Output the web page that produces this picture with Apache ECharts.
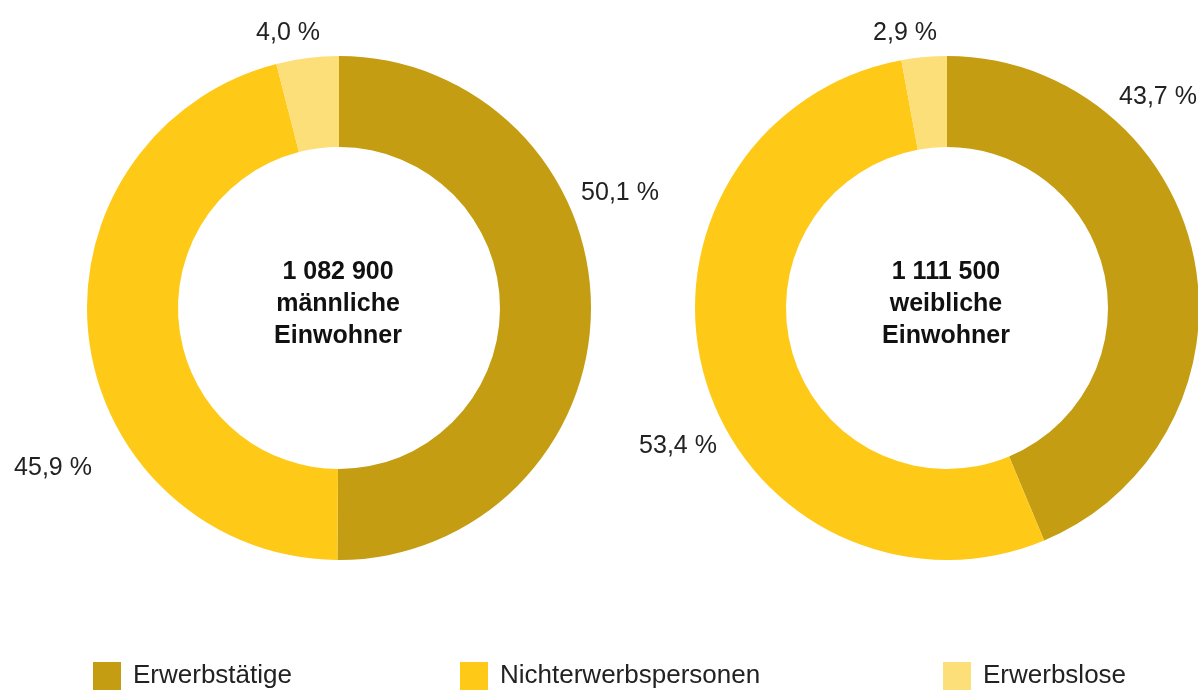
<!DOCTYPE html>
<html>
<head>
<meta charset="utf-8">
<script src="https://cdn.jsdelivr.net/npm/echarts@6/dist/echarts.min.js"></script>
<style>
  html, body { margin: 0; padding: 0; background: #fff; }
  #chart { width: 1198px; height: 690px; }
</style>
</head>
<body>
<div id="chart"></div>
<script>
// Daten
var kategorien = ['Erwerbstätige', 'Nichterwerbspersonen', 'Erwerbslose'];
var maennlich = [50.1, 45.9, 4.0];
var weiblich = [43.7, 53.4, 2.9];
var mitteTexte = ['1 082 900\nmännliche\nEinwohner', '1 111 500\nweibliche\nEinwohner'];
var farben = ['#C49D12', '#FEC917', '#FDDF7A'];

var schrift = '"Liberation Sans", Arial, sans-serif';

// Lage der Prozentangaben (Mittelpunkt des Textes)
var labelPosLinks = [[620, 193], [53, 468], [288, 33]];
var labelPosRechts = [[1158, 97], [678, 446], [905, 33]];
// linke Kante der Legendeneinträge
var legendeLinks = [93, 460, 943];

var myChart = echarts.init(document.getElementById('chart'));

function prozent(v) {
    return v.toFixed(1).replace('.', ',') + ' %';
}

function baueSerie(name, werte, mitte, pos) {
    return {
        name: name,
        type: 'pie',
        center: mitte,
        radius: [161, 252],
        startAngle: 90,
        clockwise: true,
        silent: true,
        avoidLabelOverlap: false,
        data: werte.map(function (v, i) {
            return { name: kategorien[i], value: v, itemStyle: { color: farben[i] } };
        }),
        label: {
            show: true,
            position: 'outside',
            overflow: 'none',
            formatter: function (p) { return prozent(p.value); },
            fontFamily: schrift,
            fontSize: 25,
            color: '#222'
        },
        labelLine: { show: false },
        labelLayout: function (params) {
            var p = pos[params.dataIndex];
            return { x: p[0], y: p[1], align: 'center', verticalAlign: 'middle', hideOverlap: false };
        }
    };
}

var mitteStil = {
    fontFamily: schrift,
    fontSize: 25,
    fontWeight: 'bold',
    color: '#111',
    lineHeight: 32,
    align: 'center'
};

var option = {
    animation: false,
    color: farben,
    title: [
        { text: mitteTexte[0], left: 333, top: 251, textAlign: 'center', textStyle: mitteStil },
        { text: mitteTexte[1], left: 941, top: 251, textAlign: 'center', textStyle: mitteStil }
    ],
    legend: kategorien.map(function (k, i) {
        return {
            data: [k],
            left: legendeLinks[i],
            top: 662,
            padding: 0,
            itemWidth: 28,
            itemHeight: 28,
            icon: 'rect',
            selectedMode: false,
            textStyle: {
                fontFamily: schrift,
                fontSize: 26,
                color: '#222',
                padding: [5, 0, 0, 7]
            }
        };
    }),
    series: [
        baueSerie('männlich', maennlich, [339, 308], labelPosLinks),
        baueSerie('weiblich', weiblich, [947, 308], labelPosRechts)
    ]
};

myChart.setOption(option);
</script>
</body>
</html>
